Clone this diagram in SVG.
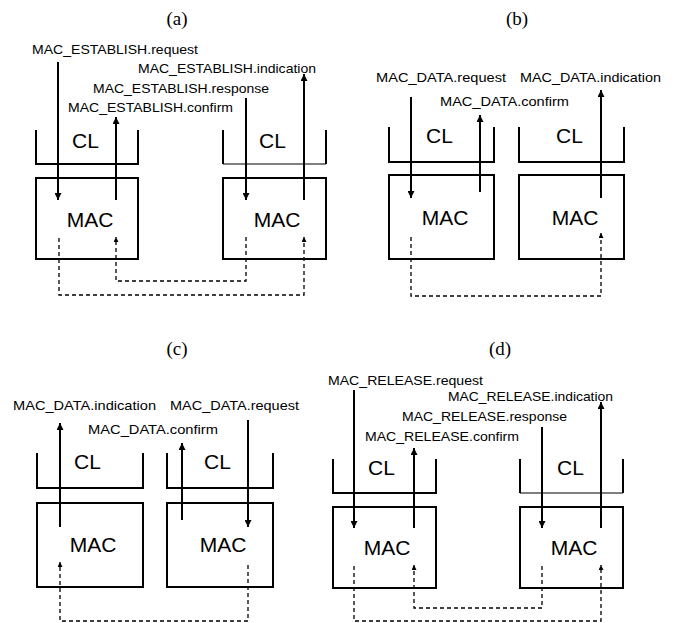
<svg xmlns="http://www.w3.org/2000/svg" width="675" height="623" viewBox="0 0 675 623">
<defs>
<marker id="ah" viewBox="0 0 10 10" refX="10" refY="5" markerWidth="11" markerHeight="7" markerUnits="userSpaceOnUse" orient="auto"><path d="M0,0 L10,5 L0,10 z" fill="#000"/></marker>
<marker id="dh" viewBox="0 0 10 10" refX="10" refY="5" markerWidth="7" markerHeight="5" markerUnits="userSpaceOnUse" orient="auto"><path d="M0,0 L10,5 L0,10 z" fill="#000"/></marker>
</defs>
<style>
.t{font-family:"Liberation Serif",serif;font-size:19px;fill:#000;text-anchor:middle}
.lab{font-family:"Liberation Sans",Arial,sans-serif;font-size:13px;fill:#000}
.cl{font-family:"Liberation Sans",Arial,sans-serif;font-size:21px;fill:#000}
.mac{font-family:"Liberation Sans",Arial,sans-serif;font-size:21px;fill:#000;text-anchor:middle}
.box{fill:none;stroke:#000;stroke-width:2}
.cup{fill:none;stroke:#000;stroke-width:2}
.thin{fill:none;stroke:#000;stroke-width:1.2}
.a{stroke:#000;stroke-width:2;fill:none;marker-end:url(#ah)}
.d{stroke:#000;stroke-width:1.3;fill:none;stroke-dasharray:4,3;marker-end:url(#dh)}
</style>

<!-- Titles -->
<text class="t" x="177" y="25">(a)</text>
<text class="t" x="517" y="25">(b)</text>
<text class="t" x="177" y="355">(c)</text>
<text class="t" x="500" y="355">(d)</text>

<!-- Panel (a) -->
<g id="a-cl-left"><path class="cup" d="M36,130 V164 H138 V130"/><text class="cl" x="72" y="148">CL</text></g>
<g id="a-mac-left"><rect class="box" x="36" y="178" width="102" height="81"/><text class="mac" x="90" y="227">MAC</text></g>
<g id="a-cl-right"><path class="cup" d="M223,130 V164"/><path class="thin" d="M223,164 H326"/><path class="cup" d="M326,164 V130"/><text class="cl" x="259" y="148">CL</text></g>
<g id="a-mac-right"><rect class="box" x="223" y="178" width="103" height="81"/><text class="mac" x="277" y="227">MAC</text></g>
<g id="a-labels">
<text class="lab" x="32" y="54" textLength="166" lengthAdjust="spacingAndGlyphs">MAC_ESTABLISH.request</text>
<text class="lab" x="138" y="73" textLength="178" lengthAdjust="spacingAndGlyphs">MAC_ESTABLISH.indication</text>
<text class="lab" x="93" y="93" textLength="176" lengthAdjust="spacingAndGlyphs">MAC_ESTABLISH.response</text>
<text class="lab" x="68" y="112" textLength="165" lengthAdjust="spacingAndGlyphs">MAC_ESTABLISH.confirm</text>
</g>

<!-- Panel (b) -->
<g id="b-cl-left"><path class="cup" d="M389,127 V162 H494 V127"/><text class="cl" x="426" y="143">CL</text></g>
<g id="b-mac-left"><rect class="box" x="389" y="175" width="105" height="84"/><text class="mac" x="445" y="225">MAC</text></g>
<g id="b-cl-right"><path class="cup" d="M519,127 V162 H624 V127"/><text class="cl" x="556" y="143">CL</text></g>
<g id="b-mac-right"><rect class="box" x="519" y="175" width="105" height="84"/><text class="mac" x="575" y="225">MAC</text></g>
<g id="b-labels">
<text class="lab" x="376" y="82" textLength="130" lengthAdjust="spacingAndGlyphs">MAC_DATA.request</text>
<text class="lab" x="520" y="82" textLength="141" lengthAdjust="spacingAndGlyphs">MAC_DATA.indication</text>
<text class="lab" x="440" y="106" textLength="129" lengthAdjust="spacingAndGlyphs">MAC_DATA.confirm</text>
</g>

<!-- Panel (c) -->
<g id="c-cl-left"><path class="cup" d="M37,453 V488 H143 V453"/><text class="cl" x="74" y="469">CL</text></g>
<g id="c-mac-left"><rect class="box" x="37" y="503" width="106" height="84"/><text class="mac" x="93" y="552">MAC</text></g>
<g id="c-cl-right"><path class="cup" d="M167,453 V488 H273 V453"/><text class="cl" x="204" y="469">CL</text></g>
<g id="c-mac-right"><rect class="box" x="167" y="503" width="106" height="84"/><text class="mac" x="223" y="552">MAC</text></g>
<g id="c-labels">
<text class="lab" x="13" y="410" textLength="143" lengthAdjust="spacingAndGlyphs">MAC_DATA.indication</text>
<text class="lab" x="170" y="410" textLength="129" lengthAdjust="spacingAndGlyphs">MAC_DATA.request</text>
<text class="lab" x="88" y="434" textLength="130" lengthAdjust="spacingAndGlyphs">MAC_DATA.confirm</text>
</g>

<!-- Panel (d) -->
<g id="d-cl-left"><path class="cup" d="M333,459 V493 H436 V459"/><text class="cl" x="368" y="475">CL</text></g>
<g id="d-mac-left"><rect class="box" x="333" y="507" width="103" height="81"/><text class="mac" x="387" y="555">MAC</text></g>
<g id="d-cl-right"><path class="cup" d="M520,459 V493"/><path class="thin" d="M520,493 H623"/><path class="cup" d="M623,493 V459"/><text class="cl" x="557" y="475">CL</text></g>
<g id="d-mac-right"><rect class="box" x="520" y="507" width="103" height="81"/><text class="mac" x="574" y="555">MAC</text></g>
<g id="d-labels">
<text class="lab" x="328" y="385" textLength="155" lengthAdjust="spacingAndGlyphs">MAC_RELEASE.request</text>
<text class="lab" x="448" y="401" textLength="165" lengthAdjust="spacingAndGlyphs">MAC_RELEASE.indication</text>
<text class="lab" x="402" y="421" textLength="165" lengthAdjust="spacingAndGlyphs">MAC_RELEASE.response</text>
<text class="lab" x="365" y="441" textLength="154" lengthAdjust="spacingAndGlyphs">MAC_RELEASE.confirm</text>
</g>

<g id="connectors">
<!-- (a) -->
<path class="a" d="M58,62 V200"/>
<path class="a" d="M116,200 V117"/>
<path class="a" d="M246,98 V200"/>
<path class="a" d="M304,200 V74"/>
<path class="d" d="M59,238 V295 H304 V237"/>
<path class="d" d="M246,237 V281 H116 V237"/>
<!-- (b) -->
<path class="a" d="M411,97 V198"/>
<path class="a" d="M480,192 V115"/>
<path class="a" d="M601,198 V90"/>
<path class="d" d="M411,237 V296 H601 V233"/>
<!-- (c) -->
<path class="a" d="M60,527 V423"/>
<path class="a" d="M182,520 V443"/>
<path class="a" d="M248,420 V527"/>
<path class="d" d="M248,565 V621 H60 V562"/>
<!-- (d) -->
<path class="a" d="M354,390 V528"/>
<path class="a" d="M414,528 V448"/>
<path class="a" d="M542,427 V528"/>
<path class="a" d="M601,528 V402"/>
<path class="d" d="M542,566 V608 H414 V565"/>
<path class="d" d="M354,566 V621 H601 V565"/>
</g>
</svg>
